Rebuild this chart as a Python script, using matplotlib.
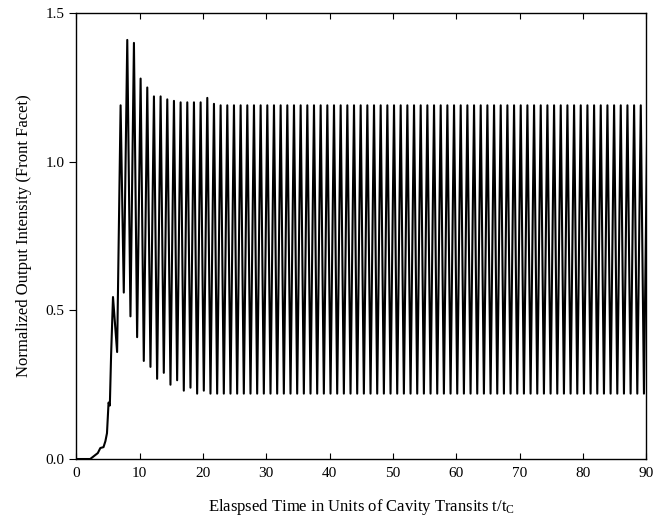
import numpy as np
from matplotlib import pyplot as plt

plt.rcParams['font.family'] = ['Liberation Serif', 'DejaVu Serif']
plt.rcParams['mathtext.fontset'] = 'custom'
plt.rcParams['mathtext.rm'] = 'Liberation Serif'
plt.rcParams['mathtext.it'] = 'Liberation Serif'

# slow turn-on before the pulsing starts (t, intensity)
rise_t = [0.0, 2.2, 2.8, 3.4, 3.8, 4.3, 4.6, 4.85, 5.1, 5.3, 5.5, 5.8]
rise_v = [0.0, 0.0, 0.01, 0.02, 0.037, 0.04, 0.06, 0.087, 0.19, 0.18, 0.35, 0.545]

# pulse train: first trough time and cycle length
first_trough = 6.45
period = 1.053

# trough then peak for each cycle
trough_v = [
    0.36, 0.56, 0.48, 0.41, 0.33, 0.31, 0.27, 0.29, 0.25, 0.265,
    0.23, 0.24, 0.22, 0.23, 0.22, 0.22, 0.22, 0.22, 0.22, 0.22,
    0.22, 0.22, 0.22, 0.22, 0.22, 0.22, 0.22, 0.22, 0.22, 0.22,
    0.22, 0.22, 0.22, 0.22, 0.22, 0.22, 0.22, 0.22, 0.22, 0.22,
    0.22, 0.22, 0.22, 0.22, 0.22, 0.22, 0.22, 0.22, 0.22, 0.22,
    0.22, 0.22, 0.22, 0.22, 0.22, 0.22, 0.22, 0.22, 0.22, 0.22,
    0.22, 0.22, 0.22, 0.22, 0.22, 0.22, 0.22, 0.22, 0.22, 0.22,
    0.22, 0.22, 0.22, 0.22, 0.22, 0.22, 0.22, 0.22, 0.22, 0.22,
]
peak_v = [
    1.19, 1.41, 1.40, 1.28, 1.25, 1.22, 1.22, 1.21, 1.205, 1.20,
    1.20, 1.20, 1.20, 1.215, 1.195, 1.19, 1.19, 1.19, 1.19, 1.19,
    1.19, 1.19, 1.19, 1.19, 1.19, 1.19, 1.19, 1.19, 1.19, 1.19,
    1.19, 1.19, 1.19, 1.19, 1.19, 1.19, 1.19, 1.19, 1.19, 1.19,
    1.19, 1.19, 1.19, 1.19, 1.19, 1.19, 1.19, 1.19, 1.19, 1.19,
    1.19, 1.19, 1.19, 1.19, 1.19, 1.19, 1.19, 1.19, 1.19, 1.19,
    1.19, 1.19, 1.19, 1.19, 1.19, 1.19, 1.19, 1.19, 1.19, 1.19,
    1.19, 1.19, 1.19, 1.19, 1.19, 1.19, 1.19, 1.19, 1.19, 1.19,
]

x_ticks = [0, 10, 20, 30, 40, 50, 60, 70, 80, 90]
y_ticks = [0.0, 0.5, 1.0, 1.5]

# interleave trough/peak into one line, peak half a cycle after each trough
k = np.arange(len(peak_v))
trough_t = first_trough + k * period
peak_t = trough_t + 0.55
t = np.concatenate([rise_t, np.column_stack([trough_t, peak_t]).ravel()])
v = np.concatenate([rise_v, np.column_stack([trough_v, peak_v]).ravel()])

fig = plt.figure(figsize=(6.69, 5.27), dpi=100)
ax = fig.add_axes([0.114, 0.129, 0.852, 0.846])
ax.plot(t, v, c='black', lw=1.5)

ax.set_xlim(0, 90)
ax.set_ylim(0, 1.5)
ax.set_xticks(x_ticks)
ax.set_yticks(y_ticks)
ax.set_yticklabels(['%.1f' % y for y in y_ticks])
ax.tick_params(axis='x', direction='in', top=True, length=4, labelsize=11, pad=6)
ax.tick_params(axis='y', direction='out', length=5, labelsize=11)
for s in ax.spines.values():
    s.set_linewidth(1.0)

ax.set_xlabel(r'Elaspsed Time in Units of Cavity Transits t/t$_{\mathrm{C}}$', fontsize=12, labelpad=12)
ax.set_ylabel('Normalized Output Intensity (Front Facet)', fontsize=12, labelpad=10)

fig.savefig('out.png', dpi=100)
